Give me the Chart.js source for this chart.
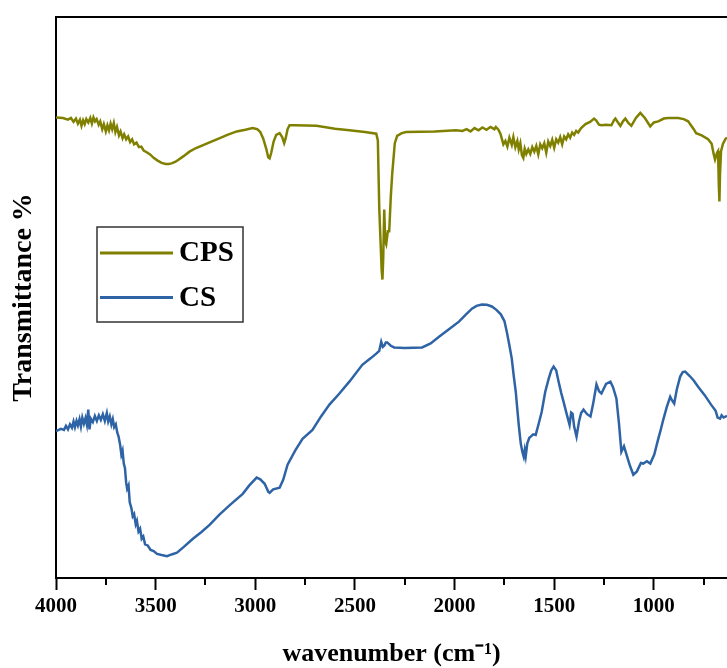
<!DOCTYPE html>
<html>
<head>
<meta charset="utf-8">
<script src="https://cdn.jsdelivr.net/npm/chart.js@4.4.0/dist/chart.umd.min.js"></script>
<style>
  html, body { margin: 0; padding: 0; background: #fff; }
  #wrap { width: 727px; height: 668px; }
</style>
</head>
<body>
<div id="wrap"><canvas id="myChart" width="727" height="668"></canvas></div>
<script>
// wavenumbers (cm-1) and transmittance (arbitrary %)
var cpsWn = [4000,3965,3940,3925,3912,3900,3890,3880,3872,3864,3856,3848,3838,3828,3820,3812,3804,3796,3786,3778,3768,3760,3750,3742,3734,3726,3718,3710,3702,3694,3684,3676,3666,3658,3648,3638,3628,3618,3608,3596,3584,3572,3560,3545,3528,3510,3490,3470,3450,3435,3420,3400,3380,3360,3330,3300,3253,3193,3140,3093,3050,3013,2990,2975,2960,2945,2935,2928,2920,2908,2895,2878,2865,2855,2848,2838,2828,2800,2693,2600,2528,2450,2393,2385,2378,2372,2366,2362,2358,2353,2348,2343,2335,2328,2320,2313,2300,2288,2265,2243,2100,1993,1960,1940,1920,1900,1880,1860,1840,1820,1800,1793,1780,1770,1762,1755,1745,1735,1725,1713,1705,1695,1685,1678,1670,1662,1655,1648,1640,1630,1620,1610,1600,1590,1580,1570,1560,1550,1540,1530,1520,1510,1500,1490,1480,1470,1460,1450,1440,1430,1420,1410,1400,1390,1380,1365,1343,1320,1300,1290,1275,1263,1240,1213,1200,1193,1180,1168,1155,1143,1128,1113,1090,1068,1045,1018,1000,978,950,928,878,850,828,800,788,760,728,710,700,693,683,678,674,671,668,663,653,640,633];
var cpsT = [82.1,82.0,81.7,82.0,81.3,81.9,81.0,81.7,80.6,81.6,80.9,81.8,81.2,82.0,81.0,82.1,81.4,81.8,80.8,81.4,80.0,80.9,79.6,80.7,79.8,81.0,80.0,81.1,79.5,80.4,78.9,79.6,78.4,79.1,78.2,78.7,77.7,78.2,77.3,77.6,76.8,76.9,76.2,75.9,75.5,74.9,74.4,74.0,73.8,73.8,73.9,74.2,74.7,75.2,76.0,76.6,77.3,78.2,79.0,79.6,79.9,80.2,80.0,79.5,78.3,76.5,75.0,74.8,75.8,77.8,79.0,79.3,78.6,77.5,78.3,80.0,80.7,80.7,80.6,80.1,79.8,79.5,79.2,78.0,66.0,60.5,55.0,53.2,57.0,65.7,60.0,59.5,61.8,61.8,68.0,72.0,77.5,78.8,79.3,79.5,79.6,79.8,79.7,80.0,79.6,80.2,79.8,80.3,79.9,80.4,80.0,80.4,79.9,79.2,78.2,77.3,77.9,76.9,78.5,77.2,78.6,76.8,77.9,76.4,77.5,75.4,74.9,76.5,75.6,76.4,75.6,76.8,76.0,77.0,75.5,77.3,76.6,77.5,75.8,77.8,77.0,78.1,76.7,78.2,77.6,78.6,77.3,78.7,78.2,79.1,78.5,79.4,79.0,79.7,79.4,80.2,80.9,81.3,81.9,81.6,80.8,80.7,80.8,80.7,81.6,81.9,81.2,80.6,81.4,81.9,81.1,80.6,82.0,82.9,82.0,80.5,81.2,81.4,81.9,82.0,82.0,81.8,81.4,80.0,79.3,78.9,78.2,77.4,75.6,74.6,75.8,76.1,70.0,67.1,72.0,76.1,77.4,78.3,78.5];

var csWn = [4000,3975,3960,3950,3940,3930,3920,3912,3905,3897,3890,3882,3875,3868,3860,3852,3845,3838,3832,3825,3815,3805,3795,3785,3775,3765,3755,3745,3738,3730,3722,3715,3708,3700,3693,3686,3678,3672,3666,3660,3654,3648,3643,3636,3630,3622,3615,3608,3600,3594,3586,3578,3570,3562,3553,3540,3525,3510,3493,3470,3443,3420,3393,3360,3313,3270,3228,3180,3128,3063,3030,2993,2975,2953,2935,2928,2910,2878,2860,2838,2800,2763,2713,2670,2628,2580,2528,2463,2420,2393,2378,2368,2360,2353,2345,2338,2320,2303,2250,2163,2120,2078,2030,1978,1945,1913,1890,1863,1838,1813,1790,1768,1750,1738,1725,1713,1703,1693,1685,1678,1668,1660,1653,1648,1643,1635,1625,1618,1605,1593,1578,1563,1545,1528,1515,1503,1490,1478,1465,1453,1438,1423,1415,1408,1400,1388,1375,1365,1353,1335,1318,1305,1288,1275,1263,1240,1218,1205,1188,1175,1163,1150,1138,1120,1103,1085,1065,1053,1035,1018,998,978,965,953,935,918,908,898,885,868,855,843,820,800,778,745,713,690,680,668,660,650,633];
var csT = [26.2,26.6,26.4,27.1,26.5,27.4,26.8,27.9,26.9,28.0,27.2,28.3,27.0,28.6,27.5,28.5,27.3,30.0,26.5,28.4,27.8,28.9,28.0,29.0,28.2,29.2,28.0,29.4,27.9,28.8,27.4,28.3,26.9,27.4,26.0,25.2,23.7,22.0,22.7,20.4,19.6,17.0,15.9,16.5,13.5,12.5,11.0,11.4,9.6,10.2,8.3,8.8,7.0,7.4,6.0,5.8,5.0,4.8,4.3,4.1,3.9,4.2,4.5,5.5,7.0,8.2,9.5,11.3,13.0,15.0,16.5,17.9,17.6,16.8,15.4,15.2,15.8,16.1,17.5,20.2,22.7,24.8,26.4,28.8,30.9,32.8,35.0,38.0,39.2,40.0,40.5,42.1,41.2,41.4,42.0,42.0,41.4,41.1,41.0,41.1,41.8,43.0,44.3,45.7,46.9,48.0,48.5,48.75,48.7,48.4,47.8,47.0,45.8,43.9,41.5,39.1,36.0,33.2,30.0,27.3,24.0,22.5,21.6,22.8,21.7,24.0,25.0,25.2,25.6,25.5,27.5,29.6,33.2,35.5,37.0,37.7,37.0,35.0,33.0,31.4,29.3,27.3,29.5,29.3,27.0,25.2,28.0,29.4,30.0,29.2,28.8,31.0,34.5,33.3,32.9,34.6,35.0,34.0,32.0,27.5,22.5,23.5,22.1,20.0,18.4,19.0,20.5,20.4,20.8,20.4,22.0,24.8,26.5,28.2,30.5,32.3,31.6,31.1,33.6,35.9,36.7,36.8,36.0,35.2,34.1,32.6,30.9,29.8,28.6,28.4,29.0,28.6,28.9];

var majorTicks = [4000, 3500, 3000, 2500, 2000, 1500, 1000];
var minorTicks = [3750, 3250, 2750, 2250, 1750, 1250, 750];

function toPoints(xs, ys) {
    var pts = [];
    for (var i = 0; i < xs.length; i++) {
        pts.push({x: xs[i], y: ys[i]});
    }
    return pts;
}

var serif = "'Liberation Serif', 'Times New Roman', serif";

// top frame line, minor ticks and the boxed legend
var extras = {
    id: 'extras',
    afterDraw: function(chart) {
        var ctx = chart.ctx;
        var a = chart.chartArea;
        var xs = chart.scales.x;
        ctx.save();
        ctx.strokeStyle = '#000';
        ctx.lineWidth = 2;
        ctx.beginPath();
        ctx.moveTo(a.left - 1, a.top);
        ctx.lineTo(a.right, a.top);
        ctx.stroke();

        for (var i = 0; i < minorTicks.length; i++) {
            var px = Math.round(xs.getPixelForValue(minorTicks[i]));
            ctx.beginPath();
            ctx.moveTo(px, a.bottom);
            ctx.lineTo(px, a.bottom + 7);
            ctx.stroke();
        }

        // legend
        var bx = a.left + 41, by = a.top + 210, bw = 146, bh = 95;
        ctx.lineWidth = 1.5;
        ctx.strokeStyle = '#333';
        ctx.strokeRect(bx, by, bw, bh);
        ctx.font = 'bold 29px ' + serif;
        ctx.textBaseline = 'middle';
        ctx.fillStyle = '#000';
        var ds = chart.data.datasets;
        for (var j = 0; j < ds.length; j++) {
            var ly = by + 26 + j * 44.5;
            ctx.strokeStyle = ds[j].borderColor;
            ctx.lineWidth = 3;
            ctx.beginPath();
            ctx.moveTo(bx + 3, ly);
            ctx.lineTo(bx + 76, ly);
            ctx.stroke();
            ctx.fillText(ds[j].label, bx + 82, ly + 1);
        }
        ctx.restore();
    }
};

var ctx = document.getElementById("myChart").getContext("2d");
var chart = new Chart(ctx, {
    type: 'line',
    data: {
        datasets: [{
            label: 'CPS',
            borderColor: '#808000',
            backgroundColor: '#808000',
            borderWidth: 2.5,
            pointRadius: 0,
            data: toPoints(cpsWn, cpsT)
        }, {
            label: 'CS',
            borderColor: '#2e64a6',
            backgroundColor: '#2e64a6',
            borderWidth: 2.5,
            pointRadius: 0,
            data: toPoints(csWn, csT)
        }]
    },
    options: {
        responsive: false,
        animation: false,
        layout: { padding: { top: 17, left: 0, right: 0, bottom: 0 } },
        plugins: { legend: { display: false }, tooltip: { enabled: false } },
        scales: {
            x: {
                type: 'linear',
                reverse: true,
                min: 633,
                max: 4000,
                afterBuildTicks: function(scale) {
                    scale.ticks = majorTicks.map(function(v) { return {value: v}; });
                },
                afterFit: function(scale) { scale.height = 90; },
                grid: { drawOnChartArea: false, tickLength: 12, tickWidth: 2, tickColor: '#000' },
                border: { color: '#000', width: 2 },
                ticks: {
                    color: '#000',
                    padding: 4,
                    maxRotation: 0,
                    autoSkip: false,
                    font: { family: serif, size: 21, weight: 'bold' },
                    callback: function(v) { return v; }
                },
                title: {
                    display: true,
                    text: 'wavenumber (cm\u207B\u00B9)',
                    color: '#000',
                    font: { family: serif, size: 26, weight: 'bold', lineHeight: 1 },
                    padding: { top: 0, bottom: 1 }
                }
            },
            y: {
                min: 0,
                max: 100,
                afterFit: function(scale) { scale.width = 56; },
                grid: { display: false },
                border: { color: '#000', width: 2 },
                ticks: { display: false },
                title: {
                    display: true,
                    text: 'Transmittance %',
                    color: '#000',
                    font: { family: serif, size: 28, weight: 'bold', lineHeight: 1 },
                    padding: { top: 10, bottom: 0 }
                }
            }
        }
    },
    plugins: [extras]
});
</script>
</body>
</html>
